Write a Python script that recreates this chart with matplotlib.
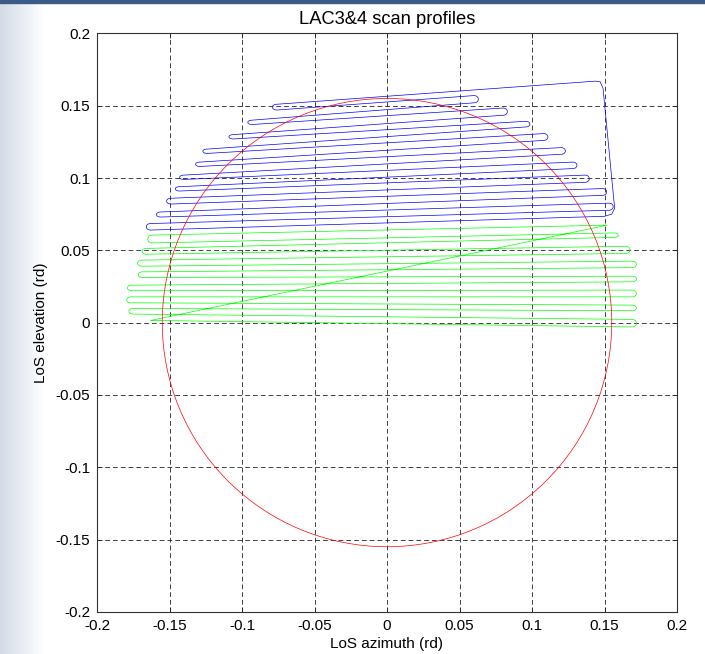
import numpy as np
import matplotlib
matplotlib.use("Agg")
import matplotlib.pyplot as plt
from matplotlib.path import Path
from matplotlib.patches import PathPatch, Circle, Rectangle
from matplotlib.colors import LinearSegmentedColormap

plt.rcParams['font.family'] = ['Liberation Sans', 'DejaVu Sans']
plt.rcParams['font.size'] = 11
plt.rcParams['lines.scale_dashes'] = False

# blue scan (upper part): rounded turn-arounds at the left and right ends
blue_left_x = [-0.079, -0.096, -0.109, -0.127, -0.132, -0.143, -0.146, -0.152, -0.159, -0.166]
blue_left_hi = [0.151, 0.140, 0.130, 0.120, 0.111, 0.102, 0.094, 0.086, 0.0765, 0.0685]
blue_left_lo = [0.147, 0.137, 0.127, 0.117, 0.108, 0.099, 0.091, 0.082, 0.073, 0.064]
blue_right_x = [0.063, 0.083, 0.0986, 0.111, 0.123, 0.131, 0.1395, 0.1515, 0.156]
blue_right_hi = [0.157, 0.1484, 0.1392, 0.1307, 0.121, 0.111, 0.102, 0.0927, 0.0826]
blue_right_lo = [0.152, 0.1434, 0.1353, 0.126, 0.1164, 0.1065, 0.097, 0.088, 0.0777]
# blue return: bottom right, up the right side, back along the top
blue_return_x = [0.150, 0.155, 0.157, 0.149, 0.147, 0.144]
blue_return_y = [0.0735, 0.075, 0.079, 0.162, 0.1665, 0.167]

# green scan (lower part)
green_left_x = [-0.165, -0.169, -0.172, -0.1715, -0.179, -0.1795, -0.178]
green_left_hi = [0.0605, 0.0513, 0.0432, 0.0351, 0.0259, 0.0178, 0.0098]
green_left_lo = [0.0551, 0.0473, 0.039, 0.0312, 0.022, 0.0137, 0.0059]
green_right_x = [0.1595, 0.1676, 0.172, 0.172, 0.172, 0.172, 0.172]
green_right_hi = [0.062, 0.0528, 0.0425, 0.0321, 0.0225, 0.0121, 0.0022]
green_right_lo = [0.0589, 0.0478, 0.038, 0.0282, 0.0178, 0.0082, -0.003]
# green return: diagonal from bottom left to top right
green_return_x = [-0.163, 0.152]
green_return_y = [0.0015, 0.0674]

# field of regard circle
circle_radius = 0.155

ticks = [-0.2, -0.15, -0.1, -0.05, 0, 0.05, 0.1, 0.15, 0.2]
tick_labels = ['-0.2', '-0.15', '-0.1', '-0.05', '0', '0.05', '0.1', '0.15', '0.2']


def scan_path(head, turns, tail, r=0.003):
    # polyline through head, hairpin turns (drawn as bezier curves), then tail
    verts = [head[0]]
    codes = [Path.MOVETO]
    for p in head[1:]:
        verts.append(p)
        codes.append(Path.LINETO)
    for x_tip, y_in, y_out, side in turns:
        a = x_tip - side * r
        b = x_tip + side * r / 3
        verts += [(a, y_in), (b, y_in), (b, y_out), (a, y_out)]
        codes += [Path.LINETO, Path.CURVE4, Path.CURVE4, Path.CURVE4]
    for p in tail:
        verts.append(p)
        codes.append(Path.LINETO)
    return Path(verts, codes)


fig = plt.figure(figsize=(7.05, 6.54), dpi=100)
fig.patch.set_facecolor('white')

# slide background edges
bg = fig.add_axes([0, 0, 45 / 705, 1])
bg_cmap = LinearSegmentedColormap.from_list('bg', ['#d3dbe6', '#e9eef4', '#ffffff'])
bg.imshow(np.linspace(0, 1, 64)[None, :], cmap=bg_cmap, aspect='auto')
bg.axis('off')
fig.patches.append(Rectangle((0, 1 - 3 / 654), 1, 3 / 654, transform=fig.transFigure,
                             color='#3d5a86', zorder=5))

ax = fig.add_axes([97 / 705, 42.2 / 654, 580 / 705, 578.4 / 654])

blue_turns = []
for i in range(len(blue_left_x)):
    blue_turns.append((blue_left_x[i], blue_left_hi[i], blue_left_lo[i], -1))
    if i < len(blue_right_x):
        blue_turns.append((blue_right_x[i], blue_right_hi[i], blue_right_lo[i], 1))
blue_path = scan_path([(blue_return_x[-1], blue_return_y[-1])], blue_turns,
                      list(zip(blue_return_x, blue_return_y)))
ax.add_patch(PathPatch(blue_path, fill=False, ec='#0000ff', lw=0.5))

green_turns = []
for i in range(len(green_left_x)):
    green_turns.append((green_left_x[i], green_left_hi[i], green_left_lo[i], -1))
    green_turns.append((green_right_x[i], green_right_hi[i], green_right_lo[i], 1))
green_path = scan_path(list(zip(green_return_x, green_return_y)), green_turns,
                       [(green_return_x[0], green_return_y[0])])
ax.add_patch(PathPatch(green_path, fill=False, ec='#00ff00', lw=0.5))

ax.add_patch(Circle((0, 0), circle_radius, fill=False, ec='#ff0000', lw=0.5))

ax.set_xlim(-0.2, 0.2)
ax.set_ylim(-0.2, 0.2)
ax.set_xticks(ticks)
ax.set_xticklabels(tick_labels)
ax.set_yticks(ticks)
ax.set_yticklabels(tick_labels)
ax.tick_params(direction='in', length=3.5, width=0.6, top=True, right=True, pad=5,
               colors='#222222', labelcolor='black')
ax.grid(True, color='#222222', linestyle=(0, (3.4, 2.2)), linewidth=0.6)
ax.set_axisbelow(True)
for s in ax.spines.values():
    s.set_linewidth(0.8)
    s.set_color('#333333')

ax.set_title('LAC3&4 scan profiles', pad=7)
ax.set_xlabel('LoS azimuth (rd)')
ax.set_ylabel('LoS elevation (rd)')
ax.xaxis.set_label_coords(0.5, -0.044)
ax.yaxis.set_label_coords(-0.085, 0.5)

fig.savefig('out.png', dpi=100)
